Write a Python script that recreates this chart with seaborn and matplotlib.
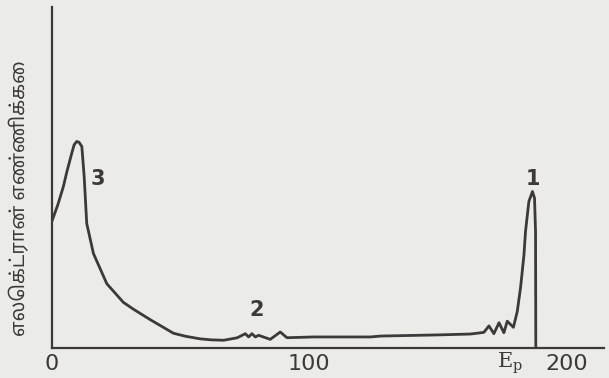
import matplotlib
matplotlib.use("Agg")
import matplotlib.pyplot as plt
import seaborn as sns
import pandas as pd

# Energy of the scattered electrons (eV) and the relative electron count
energy = [0.0, 2.3, 4.4, 5.8, 7.7, 8.6, 9.6, 10.5, 11.6, 12.5, 13.5, 16.1, 21.3,
          27.7, 31.6, 38.1, 47.2, 52.0, 57.6, 62.0, 66.7, 71.9, 74.4, 75.1, 76.4,
          77.7, 79.0, 80.3, 84.8, 88.7, 91.3, 101.7, 123.7, 127.6, 149.7, 162.6,
          167.8, 169.8, 171.7, 173.7, 175.6, 176.9, 179.3, 180.8, 182.1, 183.4,
          184.0, 185.3, 186.7, 187.5, 187.9, 188.0]
count = [1.00, 1.13, 1.27, 1.39, 1.535, 1.60, 1.626, 1.62, 1.586, 1.35, 0.98, 0.744,
         0.506, 0.36, 0.306, 0.224, 0.116, 0.092, 0.072, 0.064, 0.061, 0.08, 0.105,
         0.113, 0.087, 0.113, 0.087, 0.10, 0.068, 0.126, 0.081, 0.087, 0.087, 0.094,
         0.103, 0.11, 0.123, 0.174, 0.113, 0.199, 0.12, 0.211, 0.163, 0.288, 0.48,
         0.734, 0.917, 1.153, 1.232, 1.18, 0.916, 0.0]

# Numbered peaks: (label, energy, count)
peak_labels = ["1", "2", "3"]
peak_pos_e = [186.8, 79.4, 17.9]
peak_pos_n = [1.33, 0.30, 1.33]

x_ticks = [0, 50, 100, 150, 200]
x_tick_labels = ["0", "", "100", "", "200"]
y_ticks = [1, 2]

ylabel_text = "எலெக்ட்ரான் எண்ணிக்கை"

sns.set_theme(style="white")
plt.rcParams["font.family"] = ["DejaVu Sans"]

ink = "#3b3a38"
paper = "#ebebe8"

fig = plt.figure(figsize=(6.09, 3.78), dpi=100, facecolor=paper)
ax = fig.add_axes([52 / 609, 30 / 378, 552 / 609, 341 / 378])
ax.set_facecolor(paper)

df = pd.DataFrame({"E": energy, "N": count})
sns.lineplot(data=df, x="E", y="N", ax=ax, color=ink, linewidth=2.0,
             sort=False, estimator=None)

ax.set_xlim(0, 214.5)
ax.set_ylim(0, 2.685)

for side in ("top", "right"):
    ax.spines[side].set_visible(False)
for side in ("left", "bottom"):
    ax.spines[side].set_color(ink)
    ax.spines[side].set_linewidth(1.6)

ax.set_xticks(x_ticks)
ax.set_xticklabels(x_tick_labels)
ax.set_yticks(y_ticks)
ax.set_yticklabels([])
ax.tick_params(axis="x", direction="in", length=10, width=1.2, color=ink,
               labelsize=16, labelcolor=ink, pad=4)
ax.tick_params(axis="y", direction="in", length=11, width=1.2, color=ink)
ax.set_xlabel("")
ax.set_ylabel("")

for lab, e, n in zip(peak_labels, peak_pos_e, peak_pos_n):
    ax.text(e, n, lab, fontsize=15, fontweight="bold", color=ink,
            ha="center", va="center")

ax.text(178, -0.12, r"E$_\mathrm{p}$", fontsize=15, color=ink,
        ha="center", va="center", family="DejaVu Serif",
        math_fontfamily="dejavuserif")

fig.text(20 / 609, 1 - 198 / 378, ylabel_text, rotation=90,
         fontsize=14, color=ink, ha="center", va="center",
         family=["Noto Sans Tamil", "DejaVu Sans"])

fig.savefig("out.png", dpi=100, facecolor=paper)
